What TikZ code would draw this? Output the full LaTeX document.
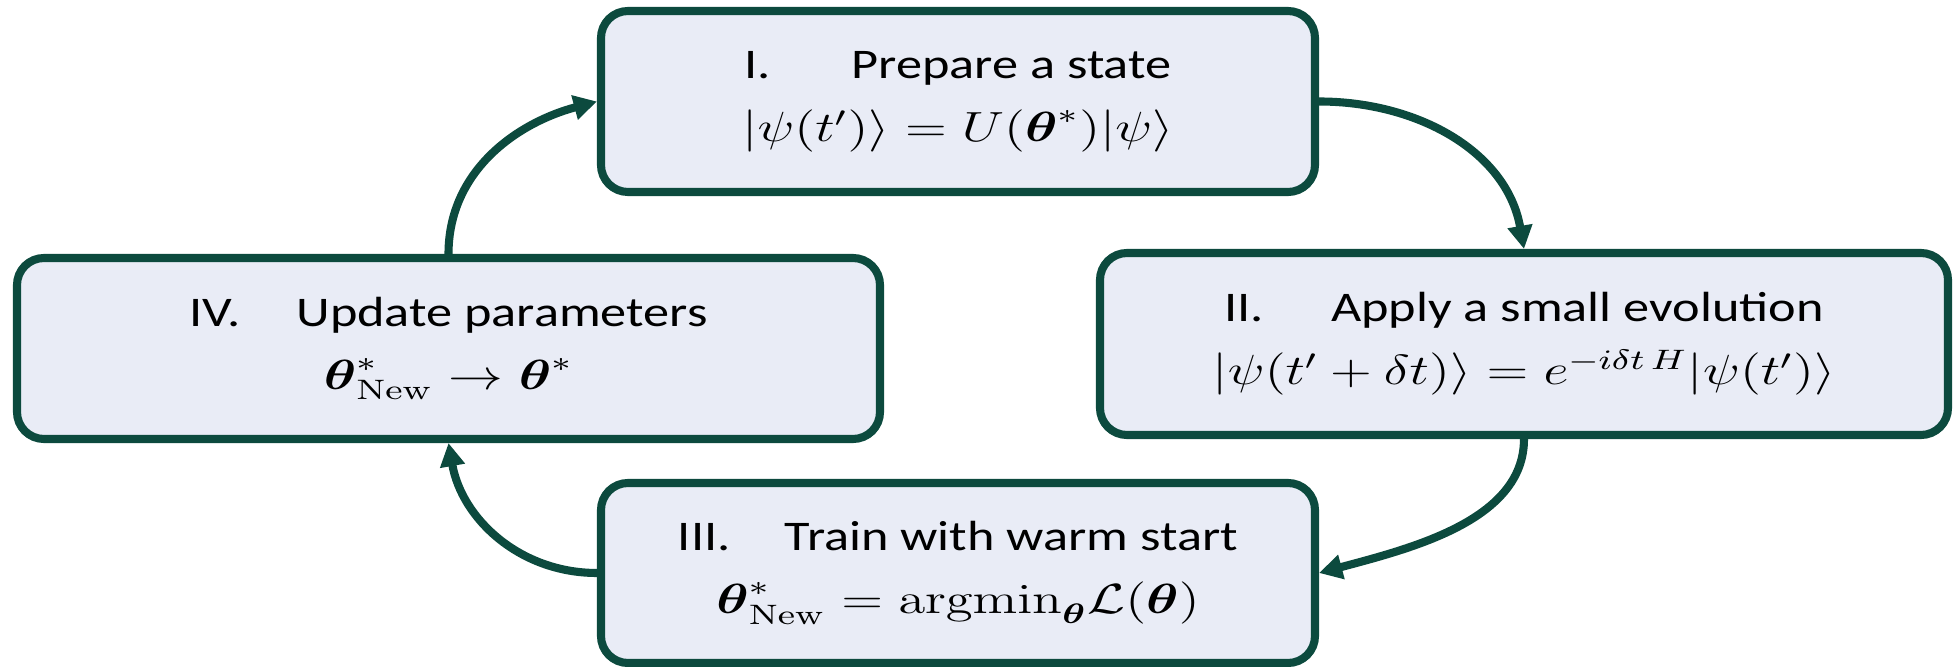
\documentclass[tikz,border=0pt]{standalone}
\usepackage{amsmath}
\usepackage{graphicx}
\usepackage[no-math]{fontspec}
\setmainfont{Carlito}[FakeStretch=1.24]
\usetikzlibrary{arrows.meta}

\definecolor{LoopInk}{HTML}{0C4A3E}
\definecolor{LoopFill}{HTML}{E9ECF6}

% step number in a fixed slot, then the title
\newcommand{\stagehead}[2]{\makebox[1.07cm][l]{#1}#2}
\newcommand{\stagemath}[1]{\scalebox{1.3}[1]{\fontsize{12}{18}\selectfont$#1$}}
\newcommand{\thetab}{\boldsymbol{\theta}}

\begin{document}
\begin{tikzpicture}[x=1cm,y=1cm,
    stagebox/.style={draw=LoopInk,fill=LoopFill,line width=2.3pt,
      rounded corners=0.27cm,align=center,inner sep=0pt,
      font=\fontsize{12}{18}\selectfont},
    flow/.style={LoopInk,line width=2.3pt,
      -{Triangle[length=6.6pt,width=6.8pt]}}]
  \useasboundingbox (0,0) rectangle (19.56,6.67);

  \node[stagebox,minimum width=7.14cm,minimum height=1.81cm] (prepare) at (9.58,5.655)
    {\stagehead{I.}{Prepare a state}\\
     \stagemath{\lvert\psi(t')\rangle = U(\thetab^{*})\lvert\psi\rangle}};
  \node[stagebox,minimum width=8.48cm,minimum height=1.82cm] (evolve) at (15.24,3.23)
    {\stagehead{II.}{Apply a small evolution}\\
     \stagemath{\lvert\psi(t'+\delta t)\rangle = e^{-i\delta t\,H}\lvert\psi(t')\rangle}};
  \node[stagebox,minimum width=7.14cm,minimum height=1.80cm] (train) at (9.58,0.94)
    {\stagehead{III.}{Train with warm start}\\
     \stagemath{\thetab^{*}_{\mathrm{New}} = \mathrm{argmin}_{\thetab}\mathcal{L}(\thetab)}};
  \node[stagebox,minimum width=8.63cm,minimum height=1.81cm] (update) at (4.485,3.185)
    {\stagehead{IV.}{Update parameters}\\
     \stagemath{\thetab^{*}_{\mathrm{New}} \rightarrow \thetab^{*}}};

  % the loop
  \draw[flow] (update.north) to[out=90,in=195] (prepare.west);
  \draw[flow] (prepare.east) to[out=0,in=100] (evolve.north);
  \draw[flow] (evolve.south) to[out=270,in=15,out looseness=0.85] (train.east);
  \draw[flow] (train.west) to[out=180,in=280] (update.south);
\end{tikzpicture}
\end{document}
